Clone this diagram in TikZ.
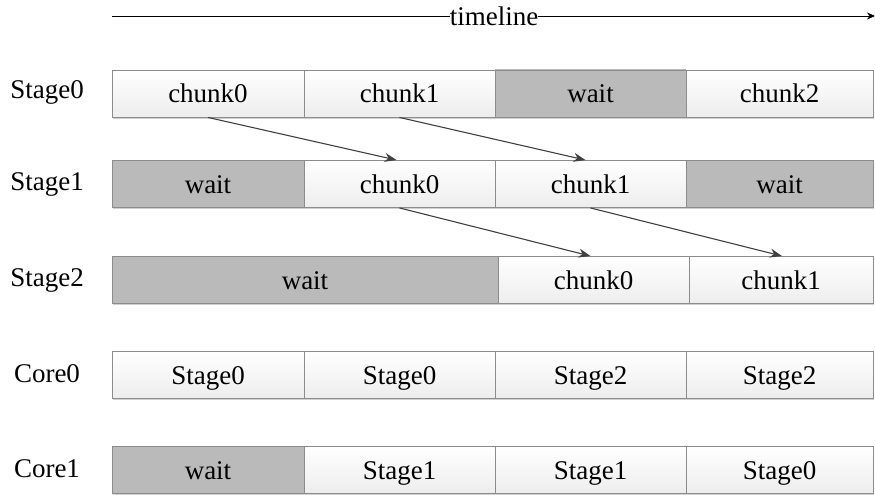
\documentclass[tikz,border=0pt]{standalone}
\usepackage{fontspec}
\setmainfont{Liberation Serif}
\newfontfamily\tnr{Liberation Serif}
\usetikzlibrary{arrows.meta,shadows}
\tikzset{
  cell/.style={draw=black!45, line width=0.9pt, minimum height=47pt, inner sep=0pt,
    text height=20pt, text depth=2pt,
    top color=white, bottom color=black!7,
    drop shadow={shadow xshift=0.8pt, shadow yshift=-1.6pt, opacity=0.18, fill=black},
    font=\tnr\fontsize{27}{31}\selectfont},
  waitcell/.style={cell, top color=black!27, bottom color=black!27},
  rowlabel/.style={font=\tnr\fontsize{27}{31}\selectfont, inner sep=0pt, anchor=base},
  flow/.style={draw=black!75, line width=1.1pt, -{Stealth[length=12pt,width=9pt]}},
}
\begin{document}
\begin{tikzpicture}[x=1pt,y=-1pt]
\useasboundingbox (0,0) rectangle (875,495);

% timeline
\node[rowlabel] (tl) at (494,26) {timeline};
\coordinate (tlstart) at (112,16);
\coordinate (tlend) at (875,16);
\draw[line width=0.9pt] (tlstart) -- (tl.west |- tlstart);
\draw[line width=0.9pt, -{Stealth[length=8pt,width=7pt]}] (tl.east |- tlend) -- (tlend);

% row labels
\node[rowlabel] (l0) at (47,99) {Stage0};
\node[rowlabel] (l1) at (47,190) {Stage1};
\node[rowlabel] (l2) at (47,286) {Stage2};
\node[rowlabel] (l3) at (47,382) {Core0};
\node[rowlabel] (l4) at (47,477) {Core1};

% Stage0
\node[cell, minimum width=192pt] (s0a) at (208,93.5) {chunk0};
\node[cell, minimum width=191pt] (s0b) at (399.5,93.5) {chunk1};
\node[waitcell, minimum width=191pt] (s0c) at (590.5,93.5) {wait};
\node[cell, minimum width=187pt] (s0d) at (779.5,93.5) {chunk2};

% Stage1
\node[waitcell, minimum width=192pt] (s1a) at (208,184) {wait};
\node[cell, minimum width=191pt] (s1b) at (399.5,184) {chunk0};
\node[cell, minimum width=191pt] (s1c) at (590.5,184) {chunk1};
\node[waitcell, minimum width=187pt] (s1d) at (779.5,184) {wait};

% Stage2
\node[waitcell, minimum width=386pt] (s2a) at (305,280) {wait};
\node[cell, minimum width=191pt] (s2b) at (593.5,280) {chunk0};
\node[cell, minimum width=184pt] (s2c) at (781,280) {chunk1};

% Core0
\node[cell, minimum width=192pt] (c0a) at (208,375) {Stage0};
\node[cell, minimum width=191pt] (c0b) at (399.5,375) {Stage0};
\node[cell, minimum width=191pt] (c0c) at (590.5,375) {Stage2};
\node[cell, minimum width=187pt] (c0d) at (779.5,375) {Stage2};

% Core1
\node[waitcell, minimum width=192pt] (c1a) at (208,470) {wait};
\node[cell, minimum width=191pt] (c1b) at (399.5,470) {Stage1};
\node[cell, minimum width=191pt] (c1c) at (590.5,470) {Stage1};
\node[cell, minimum width=187pt] (c1d) at (779.5,470) {Stage0};

% dependencies
\draw[flow] (s0a.south) -- ([xshift=-3pt]s1b.north);
\draw[flow] (s0b.south) -- ([xshift=-5pt]s1c.north);
\draw[flow] (s1b.south) -- ([xshift=-3pt]s2b.north);
\draw[flow] (s1c.south) -- ([xshift=1pt]s2c.north);
\end{tikzpicture}
\end{document}
